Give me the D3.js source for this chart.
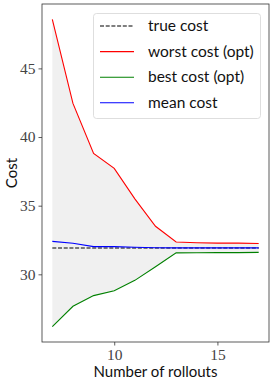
<!DOCTYPE html>
<html>
<head>
<meta charset="utf-8">
<script src="https://cdn.jsdelivr.net/npm/d3@7"></script>
<style>
  body { margin: 0; background: #fff; }
  svg { display: block; }
</style>
</head>
<body>
<svg id="chart" width="274" height="385"></svg>
<script>
// rollouts on x axis
var rollouts = [7, 8, 9, 10, 11, 12, 13, 14, 15, 16, 17];
var worstCost = [48.57, 42.45, 38.81, 37.72, 35.5, 33.5, 32.35, 32.3, 32.27, 32.27, 32.24];
var bestCost = [26.19, 27.67, 28.45, 28.81, 29.56, 30.55, 31.56, 31.57, 31.58, 31.58, 31.6];
var meanCost = [32.4, 32.26, 32.02, 32.02, 31.97, 31.94, 31.93, 31.93, 31.93, 31.93, 31.93];
var trueCost = 31.92;
var xTicks = [10, 15];
var yTicks = [30, 35, 40, 45];
var legendLabels = ['true cost', 'worst cost (opt)', 'best cost (opt)', 'mean cost'];

var svg = d3.select('#chart');
var plotLeft = 42, plotTop = 4, plotRight = 269, plotBottom = 342;

// matplotlib style 5% margins
var xPad = (d3.max(rollouts) - d3.min(rollouts)) * 0.05;
var yLo = d3.min(bestCost), yHi = d3.max(worstCost);
var yPad = (yHi - yLo) * 0.05;

var x = d3.scaleLinear()
    .domain([d3.min(rollouts) - xPad, d3.max(rollouts) + xPad])
    .range([plotLeft, plotRight]);
var y = d3.scaleLinear()
    .domain([yLo - yPad, yHi + yPad])
    .range([plotBottom, plotTop]);

// shaded band between best and worst
var area = d3.area()
    .x(function (d, i) { return x(rollouts[i]); })
    .y0(function (d, i) { return y(bestCost[i]); })
    .y1(function (d, i) { return y(worstCost[i]); });
svg.append('path')
    .datum(rollouts)
    .attr('d', area)
    .attr('fill', '#f0f0f0');

function line(vals) {
    return d3.line()
        .x(function (d, i) { return x(rollouts[i]); })
        .y(function (d) { return y(d); })(vals);
}

svg.append('path')
    .attr('d', line(rollouts.map(function () { return trueCost; })))
    .attr('fill', 'none').attr('stroke', '#000').attr('stroke-width', 1.1)
    .attr('stroke-dasharray', '4,1.7');
svg.append('path').attr('d', line(worstCost))
    .attr('fill', 'none').attr('stroke', '#ff0000').attr('stroke-width', 1.1);
svg.append('path').attr('d', line(bestCost))
    .attr('fill', 'none').attr('stroke', '#008000').attr('stroke-width', 1.1);
svg.append('path').attr('d', line(meanCost))
    .attr('fill', 'none').attr('stroke', '#0000ff').attr('stroke-width', 1.1);

// axes
var xAxis = svg.append('g')
    .attr('transform', 'translate(0,' + plotBottom + ')')
    .call(d3.axisBottom(x).tickValues(xTicks).tickSize(3.5).tickPadding(3).tickFormat(d3.format('d')));
var yAxis = svg.append('g')
    .attr('transform', 'translate(' + plotLeft + ',0)')
    .call(d3.axisLeft(y).tickValues(yTicks).tickSize(3.5).tickPadding(3).tickFormat(d3.format('d')));
[xAxis, yAxis].forEach(function (g) {
    g.select('.domain').remove();
    g.attr('font-family', '"Liberation Serif", "DejaVu Serif", serif');
    g.selectAll('.tick line').attr('stroke', '#333').attr('stroke-width', 0.8);
    g.selectAll('.tick text')
        .attr('font-family', '"Liberation Serif", "DejaVu Serif", serif')
        .attr('font-size', 15.5).attr('fill', '#444');
});

// frame
svg.append('rect')
    .attr('x', plotLeft).attr('y', plotTop)
    .attr('width', plotRight - plotLeft).attr('height', plotBottom - plotTop)
    .attr('fill', 'none').attr('stroke', '#333').attr('stroke-width', 0.8);

// axis labels
svg.append('text')
    .attr('x', (plotLeft + plotRight) / 2).attr('y', 377)
    .attr('text-anchor', 'middle')
    .attr('font-family', 'Lato, sans-serif').attr('font-size', 15)
    .attr('fill', '#111')
    .text('Number of rollouts');
svg.append('text')
    .attr('transform', 'translate(17,' + ((plotTop + plotBottom) / 2) + ') rotate(-90)')
    .attr('text-anchor', 'middle')
    .attr('font-family', 'Lato, sans-serif').attr('font-size', 15)
    .attr('fill', '#111')
    .text('Cost');

// legend
var lg = svg.append('g');
lg.append('rect')
    .attr('x', 93.5).attr('y', 13.5).attr('width', 167).attr('height', 105)
    .attr('rx', 3)
    .attr('fill', 'rgba(255,255,255,0.8)').attr('stroke', '#d6d6d6').attr('stroke-width', 0.8);
var legendColors = ['#000', '#ff0000', '#008000', '#0000ff'];
legendLabels.forEach(function (lab, i) {
    var ly = 26 + i * 25.6;
    lg.append('line')
        .attr('x1', 100).attr('x2', 134).attr('y1', ly).attr('y2', ly)
        .attr('stroke', legendColors[i]).attr('stroke-width', 1.1)
        .attr('stroke-dasharray', i === 0 ? '4,1.7' : null);
    lg.append('text')
        .attr('x', 148).attr('y', ly + 5)
        .attr('font-family', 'Lato, sans-serif').attr('font-size', 15.5)
        .attr('fill', '#111')
        .text(lab);
});
</script>
</body>
</html>
